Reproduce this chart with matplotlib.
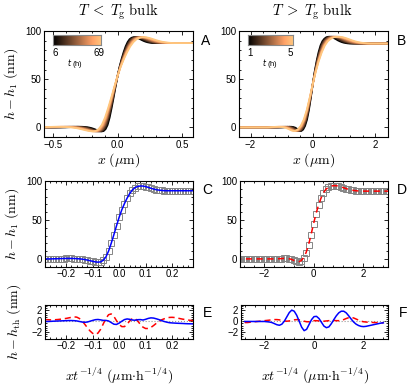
import numpy as np
import matplotlib
matplotlib.use("Agg")
import matplotlib.pyplot as plt
from matplotlib.ticker import AutoMinorLocator

plt.rcParams["font.family"] = ["Liberation Sans", "DejaVu Sans"]
plt.rcParams["mathtext.fontset"] = "cm"

# --- master profile below Tg (panel C), scaled coordinate x t^-1/4 ---
u_c = np.round(np.arange(-0.40, 0.405, 0.01), 2)
h_c = [0] * 15 + [
    0.1, 0.2, 0.3, 0.4, 0.5, 0.6, 0.6, 0.6, 0.5, 0.3, 0.1, -0.3, -0.8, -1.5,
    -2.3, -3.1, -3.8, -4.2, -3.8, -1.8, 2.5, 10, 20, 31, 42.5, 53.5, 63, 71,
    78, 84, 88.5, 91.5, 93, 93.6, 93.5, 92.8, 91.8, 90.7, 89.7, 88.9, 88.3,
    87.9, 87.6, 87.5] + [87.5] * 22

# --- master profile above Tg (panel D) ---
x_d = np.round(np.arange(-4.0, 4.05, 0.1), 1)
h_d = [0] * 26 + [
    0.2, 0.4, 0.6, 0.6, 0.3, -0.4, -1.8, -3.3, -3.8, -2.3, 1.5, 8, 18, 31,
    45, 58, 69, 78, 85, 89.5, 92, 93.5, 94, 94, 93.5, 92.6, 91.5, 90.3, 89.3,
    88.5, 87.9, 87.5, 87.2, 87.0] + [87.0] * 21

# curve widths of the raw profiles (panels A, B), black -> light
times_a = [6, 69]
times_b = [1, 5]
width_a = [1.55, 1.7, 1.85, 2.0, 2.15, 2.3, 2.45]
width_b = [0.62, 0.68, 0.74, 0.8, 0.86, 0.92, 0.97]

# --- residuals ---
u_e = np.round(np.arange(-0.28, 0.285, 0.01), 2)
red_e = [0.30, 0.28, 0.25, 0.25, 0.28, 0.32, 0.38, 0.45, 0.52, 0.62, 0.72,
         0.80, 0.75, 0.50, 0.05, -0.55, -1.20, -1.80, -2.25, -2.45, -2.20,
         -1.50, -0.50, 0.50, 1.20, 1.35, 0.90, 0.10, -0.60, -1.00, -1.00,
         -0.55, 0.05, 0.50, 0.50, 0.05, -0.60, -1.10, -1.35, -1.35, -1.15,
         -0.80, -0.40, -0.05, 0.25, 0.45, 0.60, 0.70, 0.72, 0.68, 0.58, 0.48,
         0.38, 0.30, 0.22, 0.15, 0.10]
blue_e = [-0.05, -0.05, -0.03, 0.0, 0.02, 0.04, 0.06, 0.08, 0.10, 0.12, 0.12,
          0.10, 0.05, -0.05, -0.15, -0.20, -0.15, 0.0, 0.15, 0.28, 0.32, 0.25,
          0.15, 0.15, 0.05, -0.25, -0.55, -0.60, -0.35, 0.0, 0.30, 0.42, 0.35,
          0.22, 0.18, 0.28, 0.30, 0.22, 0.35, 0.52, 0.62, 0.58, 0.45, 0.30,
          0.12, -0.05, -0.18, -0.28, -0.32, -0.35, -0.38, -0.40, -0.42, -0.45,
          -0.47, -0.48, -0.50]

x_f = np.round(np.arange(-2.8, 2.85, 0.1), 1)
blue_f = [-0.05, -0.05, -0.05, -0.05, -0.05, -0.05, -0.05, -0.05, -0.05, -0.1,
          -0.15, -0.25, -0.45, -0.65, -0.75, -0.55, 0.0, 0.8, 1.6, 2.05, 1.85,
          1.1, 0.0, -1.1, -1.75, -1.5, -0.6, 0.3, 0.85, 0.9, 0.5, -0.2, -0.9,
          -1.2, -1.05, -0.45, 0.3, 1.0, 1.55, 1.85, 1.85, 1.55, 1.0, 0.4,
          -0.15, -0.55, -0.8, -0.95, -1.0, -0.95, -0.85, -0.75, -0.65, -0.55,
          -0.45, -0.35, -0.3]
red_f = [-0.25, -0.25, -0.2, -0.15, -0.1, -0.05, 0.0, 0.05, 0.1, 0.15, 0.2,
         0.25, 0.3, 0.3, 0.25, 0.15, 0.05, 0.0, 0.05, 0.15, 0.25, 0.3, 0.25,
         0.15, 0.0, -0.1, -0.1, 0.0, 0.1, 0.1, 0.05, 0.0, 0.0, 0.05, 0.1,
         0.15, 0.15, 0.1, 0.1, 0.15, 0.3, 0.5, 0.65, 0.7, 0.6, 0.4, 0.2, 0.0,
         -0.1, -0.15, -0.2, -0.2, -0.25, -0.25, -0.3, -0.3, -0.3]

W, H = 416, 389
fig = plt.figure(figsize=(W / 100, H / 100), dpi=100)


def px_axes(left, top, right, bottom):
    return fig.add_axes([left / W, 1 - bottom / H, (right - left) / W, (bottom - top) / H])


def style(ax, xticks, yticks):
    ax.set_xticks(xticks)
    ax.set_yticks(yticks)
    ax.xaxis.set_minor_locator(AutoMinorLocator(5))
    ax.yaxis.set_minor_locator(AutoMinorLocator(5))
    ax.tick_params(which="both", direction="in", top=True, right=True,
                   labelsize=7, pad=2, width=0.6)
    ax.tick_params(which="major", length=3)
    ax.tick_params(which="minor", length=1.5)
    for s in ax.spines.values():
        s.set_linewidth(0.8)


def colorbar_inset(ax, lo, hi, w):
    cax = ax.inset_axes([0.059, 0.868, w, 0.094])
    cax.imshow(np.linspace(0, 1, 256)[None, :], aspect="auto", cmap="copper")
    cax.set_xticks([])
    cax.set_yticks([])
    for s in cax.spines.values():
        s.set_edgecolor("#888888")
        s.set_linewidth(0.8)
    ax.text(0.074, 0.79, str(lo), transform=ax.transAxes, fontsize=7, ha="center", va="center")
    ax.text(0.059 + w - 0.015, 0.79, str(hi), transform=ax.transAxes, fontsize=7, ha="center", va="center")
    ax.text(0.21, 0.695, "$t$ (h)", transform=ax.transAxes, fontsize=5.5, ha="center", va="center",
            family="Liberation Sans", math_fontfamily="dejavusans")


cmap = plt.get_cmap("copper")
ylab = r"$h - h_1\ (\mathrm{nm})$"
sq = dict(ls="none", marker="s", ms=4.3, mfc="none", mec="#858585", mew=0.7)

# A
axA = px_axes(44, 31, 192.5, 137)
for i, s in enumerate(width_a):
    axA.plot(u_c * s, h_c, color=cmap(i / (len(width_a) - 1)), lw=1.3)
axA.set_xlim(-0.57, 0.58)
axA.set_ylim(-10, 100)
style(axA, [-0.5, 0, 0.5], [0, 50, 100])
axA.set_xlabel(r"$x\ (\mu\mathrm{m})$", fontsize=10, labelpad=1)
axA.set_ylabel(ylab, fontsize=10, labelpad=4)
colorbar_inset(axA, times_a[0], times_a[1], 0.325)

# B
axB = px_axes(239, 31, 387.5, 137)
for i, s in enumerate(width_b):
    axB.plot(x_d * s, h_d, color=cmap(i / (len(width_b) - 1)), lw=1.3)
axB.set_xlim(-2.37, 2.4)
axB.set_ylim(-10, 100)
style(axB, [-2, 0, 2], [0, 50, 100])
axB.set_xlabel(r"$x\ (\mu\mathrm{m})$", fontsize=10, labelpad=1)
colorbar_inset(axB, times_b[0], times_b[1], 0.303)

# C
axC = px_axes(45, 181, 193.3, 266.7)
axC.plot(u_c, h_c, **sq)
axC.plot(u_c, h_c, color="#0000ff", lw=1.1)
axC.set_xlim(-0.28, 0.28)
axC.set_ylim(-10, 100)
style(axC, [-0.2, -0.1, 0, 0.1, 0.2], [0, 50, 100])
axC.set_ylabel(ylab, fontsize=10, labelpad=4)

# D
axD = px_axes(240, 181, 388.3, 266.7)
axD.plot(x_d, h_d, **sq)
axD.plot(x_d, h_d, color="red", lw=1.1, dashes=(4, 3))
axD.set_xlim(-2.95, 3.0)
axD.set_ylim(-10, 100)
style(axD, [-2, 0, 2], [0, 50, 100])

# E
axE = px_axes(45, 305, 193.3, 338.5)
axE.axhline(0, color="#999999", lw=0.8, ls=":")
axE.plot(u_e, red_e, color="red", lw=1.1, dashes=(4, 2.5))
axE.plot(u_e, blue_e, color="#0000ff", lw=1.1)
axE.set_xlim(-0.28, 0.28)
axE.set_ylim(-3.2, 3.0)
style(axE, [-0.2, -0.1, 0, 0.1, 0.2], [-2, 0, 2])
axE.set_ylabel(r"$h - h_{\mathrm{th}}\ (\mathrm{nm})$", fontsize=10, labelpad=6)
axE.set_xlabel(r"$xt^{-1/4}\ (\mu\mathrm{m}{\cdot}\mathrm{h}^{-1/4})$", fontsize=10, labelpad=10)

# F
axF = px_axes(241, 305, 388.3, 338.5)
axF.axhline(0, color="#999999", lw=0.8, ls=":")
axF.plot(x_f, red_f, color="red", lw=1.1, dashes=(4, 2.5))
axF.plot(x_f, blue_f, color="#0000ff", lw=1.1)
axF.set_xlim(-2.95, 3.0)
axF.set_ylim(-3.2, 3.0)
style(axF, [-2, 0, 2], [-2, 0, 2])
axF.set_xlabel(r"$xt^{-1/4}\ (\mu\mathrm{m}{\cdot}\mathrm{h}^{-1/4})$", fontsize=10, labelpad=10)

# titles and panel letters
fig.text(118 / W, 1 - 12 / H, r"$T\;<\;T_{\mathrm{g}}\ \mathrm{bulk}$", fontsize=10.5, ha="center", va="center")
fig.text(312 / W, 1 - 12 / H, r"$T\;>\;T_{\mathrm{g}}\ \mathrm{bulk}$", fontsize=10.5, ha="center", va="center")
for lab, (lx, ly) in zip("ABCDEF", [(206, 41), (402, 41), (207, 190), (402, 190), (207, 313), (403, 313)]):
    fig.text(lx / W, 1 - ly / H, lab, fontsize=10, ha="center", va="center")

fig.savefig("out.png", dpi=100)
